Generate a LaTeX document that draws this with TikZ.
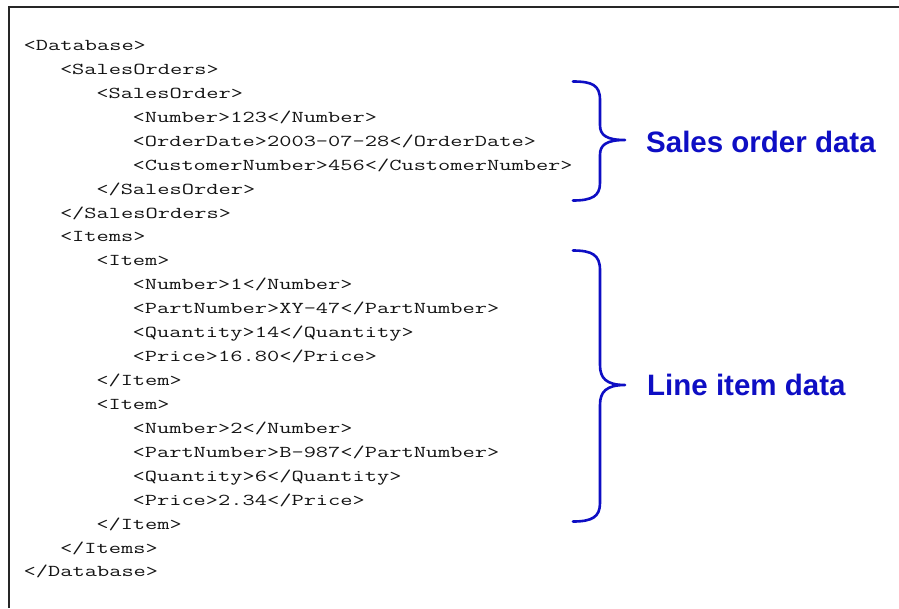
\documentclass[tikz,border=0pt]{standalone}
\usepackage{fontspec}
\newfontfamily\labelfont{Liberation Sans}
\newfontfamily\codefont[FakeStretch=1.43]{Latin Modern Mono}
\definecolor{braceblue}{RGB}{14,14,196}
\definecolor{codeink}{RGB}{20,20,20}
\begin{document}
\begin{tikzpicture}[x=1pt,y=-1pt,
  codeline/.style={anchor=base west,inner sep=0pt,text=codeink,
    font=\codefont\fontsize{16.6}{20}\selectfont},
  bracepath/.style={draw=braceblue,line width=2.6pt,line cap=round,line join=round},
  bracelabel/.style={anchor=west,inner sep=0pt,text=braceblue,
    font=\labelfont\bfseries\fontsize{29.5}{34}\selectfont}]
\useasboundingbox (0,0) rectangle (899,608);
\fill[white] (0,0) rectangle (899,608);

% frame edges (top and left)
\draw[line width=2pt,black!85] (9,608) -- (9,6.5) -- (899,6.5);

% XML listing: one node per line, indent = 3 characters
\def\lx{23.5}
\def\ind{36.3}
\def\ly{50.5}
\def\ls{23.93}
\foreach \name/\lvl/\i/\txt in {
  l01/0/0/{<Database>},
  l02/1/1/{<SalesOrders>},
  l03/2/2/{<SalesOrder>},
  l04/3/3/{<Number>123</Number>},
  l05/3/4/{<OrderDate>2003-07-28</OrderDate>},
  l06/3/5/{<CustomerNumber>456</CustomerNumber>},
  l07/2/6/{</SalesOrder>},
  l08/1/7/{</SalesOrders>},
  l09/1/8/{<Items>},
  l10/2/9/{<Item>},
  l11/3/10/{<Number>1</Number>},
  l12/3/11/{<PartNumber>XY-47</PartNumber>},
  l13/3/12/{<Quantity>14</Quantity>},
  l14/3/13/{<Price>16.80</Price>},
  l15/2/14/{</Item>},
  l16/2/15/{<Item>},
  l17/3/16/{<Number>2</Number>},
  l18/3/17/{<PartNumber>B-987</PartNumber>},
  l19/3/18/{<Quantity>6</Quantity>},
  l20/3/19/{<Price>2.34</Price>},
  l21/2/20/{</Item>},
  l22/1/21/{</Items>},
  l23/0/22/{</Database>}}
  \node[codeline] (\name) at ({\lx+\lvl*\ind},{\ly+\i*\ls}) {\txt};

% brace around the sales order fields
\draw[bracepath] (573,81.5) .. controls (592,81.5) and (600,85) .. (600,100)
  -- (600,125) .. controls (600,135) and (606,140) .. (625,140)
  .. controls (606,140) and (600,145) .. (600,155)
  -- (600,183) .. controls (600,196) and (592,200.5) .. (573,200.5);
\node[bracelabel] (salesdata) at (646,141.5) {Sales order data};

% brace around the line items
\draw[bracepath] (573,250.5) .. controls (592,250.5) and (600,255) .. (600,270)
  -- (600,365) .. controls (600,378) and (606,385) .. (625,385)
  .. controls (606,385) and (600,392) .. (600,405)
  -- (600,503) .. controls (600,517) and (592,521.5) .. (573,521.5);
\node[bracelabel] (itemdata) at (647,385) {Line item data};
\end{tikzpicture}
\end{document}
